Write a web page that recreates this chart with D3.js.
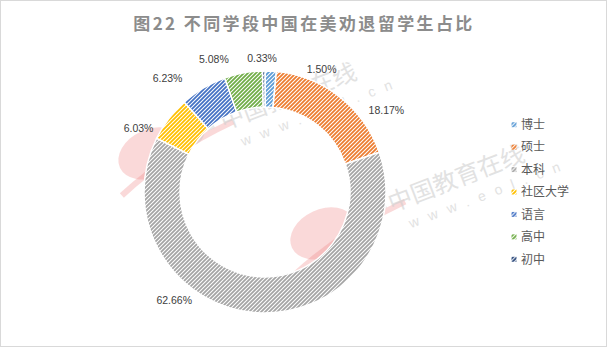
<!DOCTYPE html>
<html><head><meta charset="utf-8">
<script src="https://cdn.jsdelivr.net/npm/d3@7"></script>
<style>
html,body{margin:0;padding:0;background:#fff;}
svg{display:block;}
</style></head>
<body><svg id="chart" width="608" height="348"></svg>
<script>
// ---- data ----
const title = "图22 不同学段中国在美劝退留学生占比";
const categories = ["博士", "硕士", "本科", "社区大学", "语言", "高中", "初中"];
const values = [1.50, 18.17, 62.66, 6.03, 6.23, 5.08, 0.33];
const labels = ["1.50%", "18.17%", "62.66%", "6.03%", "6.23%", "5.08%", "0.33%"];
const colors = ["#5B9BD5", "#ED7D31", "#A5A5A5", "#FFC000", "#4472C4", "#70AD47", "#264478"];

// ---- layout ----
const W = 608, H = 348;
const cx = 265, cy = 192, R = 121, r = 85;
// label nudges (Excel best-fit placement) relative to arc point at radius labelR
const labelR = 140;
const nudges = [[50, 17], [35, 28], [-82, -32], [-15, 21], [-26, 7], [-26, 5], [-1.5, 6]];

const svg = d3.select("#chart");
const defs = svg.append("defs");

colors.forEach((c, i) => {
  const p = defs.append("pattern")
    .attr("id", "hatch" + i)
    .attr("patternUnits", "userSpaceOnUse")
    .attr("width", 4).attr("height", 4);
  p.append("rect").attr("width", 4).attr("height", 4).attr("fill", "#fff");
  p.append("path")
    .attr("d", "M-1,1 L1,-1 M0,4 L4,0 M3,5 L5,3")
    .attr("stroke", c).attr("stroke-width", 1.8);
});

// background + border
svg.append("rect").attr("x", 0.5).attr("y", 0.5).attr("width", 606).attr("height", 346)
  .attr("fill", "#fff").attr("stroke", "#d9d9d9").attr("stroke-width", 1);

// ---- watermark (faint) ----
const wm = svg.append("g").attr("pointer-events", "none");
function logo(lx, ly) {
  const lg = wm.append("g").attr("transform", `translate(${lx},${ly}) rotate(-25)`);
  lg.append("ellipse").attr("cx", -8).attr("cy", 0).attr("rx", 34).attr("ry", 24)
    .attr("fill", "#f08080").attr("opacity", 0.3);
  lg.append("path").attr("d", "M-52,26 Q10,6 80,6").attr("stroke", "#f08080")
    .attr("stroke-width", 6).attr("fill", "none").attr("opacity", 0.3);
  lg.append("ellipse").attr("cx", 36).attr("cy", -2).attr("rx", 11).attr("ry", 9)
    .attr("fill", "none").attr("stroke", "#b5b5b5").attr("stroke-width", 8).attr("opacity", 0.3);
  lg.append("rect").attr("x", 53).attr("y", -24).attr("width", 8).attr("height", 28)
    .attr("fill", "#b5b5b5").attr("opacity", 0.3);
}
function wmText(x, y, rot) {
  const g = wm.append("g").attr("transform", `translate(${x},${y}) rotate(${rot})`);
  g.append("text").attr("x", 0).attr("y", 0)
    .attr("font-family", "Noto Sans CJK SC").attr("font-size", 24)
    .attr("fill", "#cfcfcf").attr("opacity", 0.6).text("中国教育在线");
  g.append("text").attr("x", 12).attr("y", 22)
    .attr("font-family", "Liberation Sans").attr("font-size", 14).attr("letter-spacing", 10)
    .attr("fill", "#cfcfcf").attr("opacity", 0.6).text("www.eol.cn");
}

// ---- title ----
svg.append("text")
  .attr("x", 304).attr("y", 29.5)
  .attr("text-anchor", "middle")
  .attr("font-family", "Noto Sans CJK SC").attr("font-weight", 700)
  .attr("font-size", 17).attr("letter-spacing", 2.4)
  .attr("fill", "#8c8c8c")
  .text(title);

// ---- donut ----
const pie = d3.pie().sort(null).value(d => d)(values);
const arc = d3.arc().innerRadius(r).outerRadius(R);
const g = svg.append("g").attr("transform", `translate(${cx},${cy})`);
g.selectAll("path.slice").data(pie).join("path")
  .attr("class", "slice")
  .attr("d", arc)
  .attr("fill", (d, i) => `url(#hatch${i})`)
  .attr("stroke", "#fff").attr("stroke-width", 1.5);

// watermark drawn over chart
logo(158, 150);
logo(330, 230);
wmText(224, 130, -21);
wmText(392, 212, -21);

// labels
g.selectAll("text.lbl").data(pie).join("text")
  .attr("class", "lbl")
  .attr("x", (d, i) => { const a = (d.startAngle + d.endAngle) / 2; return labelR * Math.sin(a) + nudges[i][0]; })
  .attr("y", (d, i) => { const a = (d.startAngle + d.endAngle) / 2; return -labelR * Math.cos(a) + nudges[i][1]; })
  .attr("dy", "0.36em")
  .attr("text-anchor", "middle")
  .attr("font-family", "Liberation Sans").attr("font-size", 10.5)
  .attr("fill", "#404040")
  .text((d, i) => labels[i]);

// ---- legend ----
const ly = d3.scaleBand().domain(categories).range([113.5, 270.5]);
const leg = svg.append("g");
const items = leg.selectAll("g").data(categories).join("g")
  .attr("transform", d => `translate(511,${ly(d) + ly.bandwidth() / 2})`);
items.append("rect").attr("x", 0.5).attr("y", -2.5).attr("width", 5).attr("height", 5)
  .attr("fill", (d, i) => `url(#hatch${i})`);
items.append("text").attr("x", 10).attr("y", 0).attr("dy", "0.36em")
  .attr("font-family", "Noto Sans CJK SC").attr("font-size", 12)
  .attr("fill", "#595959")
  .text(d => d);
</script></body></html>
